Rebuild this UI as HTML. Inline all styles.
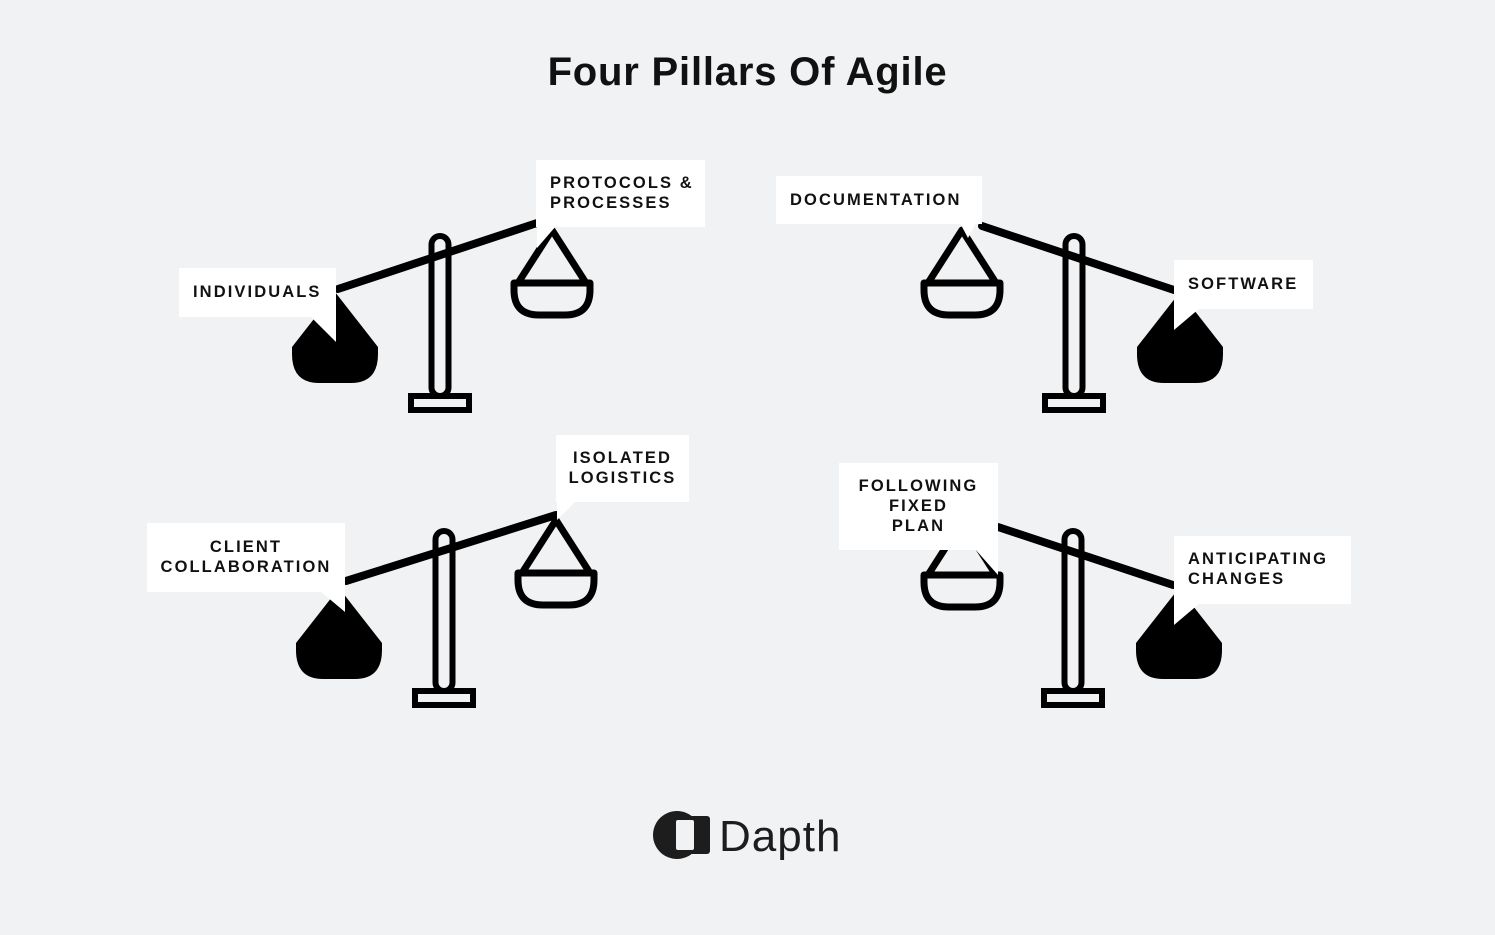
<!DOCTYPE html>
<html><head><meta charset="utf-8"><style>
html,body{margin:0;padding:0}
body{width:1495px;height:935px;background:#f0f2f4;position:relative;overflow:hidden;font-family:"Liberation Sans",sans-serif}
svg{position:absolute;left:0;top:0}
.l{position:absolute;background:#fff;font-weight:bold;font-size:16.5px;letter-spacing:2.1px;line-height:20px;color:#111;box-sizing:border-box;white-space:nowrap}
h1{position:absolute;left:0;width:1495px;top:50px;margin:0;text-align:center;font-size:40px;letter-spacing:0.8px;font-weight:bold;color:#111}
</style></head><body>
<svg width="1495" height="935" viewBox="0 0 1495 935">
<defs>
<g id="pole" fill="none" stroke="#000" stroke-width="6">
<rect x="-8.5" y="3" width="17" height="160" rx="8.5"/>
<rect x="-29" y="163" width="58" height="14"/>
</g>
<g id="pan" fill="none" stroke="#000" stroke-width="7" stroke-linejoin="round">
<path d="M-34,55 L0,2 L34,55"/>
<path d="M-38,55 H38 V62 Q38,87 13,87 H-13 Q-38,87 -38,62 Z"/>
</g>
<path id="wt" d="M0,0 L43,55 V62 Q43,91 16,91 H-16 Q-43,91 -43,62 V55 Z" fill="#000"/>
</defs>
<g stroke="#000" stroke-width="8" stroke-linecap="round">
<line x1="338" y1="289" x2="540" y2="222"/>
<line x1="982" y1="226" x2="1174" y2="290"/>
<line x1="346" y1="581" x2="556" y2="515"/>
<line x1="998" y1="527" x2="1173" y2="585"/>
</g>
<use href="#pole" x="440" y="233"/>
<use href="#pole" x="1074" y="233"/>
<use href="#pole" x="444" y="528"/>
<use href="#pole" x="1073" y="528"/>
<use href="#wt" x="335" y="292"/>
<use href="#wt" x="1180" y="292"/>
<use href="#wt" x="339" y="588"/>
<use href="#wt" x="1179" y="588"/>
<use href="#pan" x="552" y="228"/>
<use href="#pan" x="962" y="228"/>
<use href="#pan" x="556" y="518"/>
<use href="#pan" x="962" y="520"/>
<g fill="#fff">
<polygon points="310,316 336,316 336,342"/>
<polygon points="537,226 556,226 537,248"/>
<polygon points="960,223 976,223 968,238"/>
<polygon points="1174,308 1200,308 1174,330"/>
<polygon points="320,591 345,591 345,612"/>
<polygon points="557,501 576,501 557,520"/>
<polygon points="975,549 998,549 998,575"/>
<polygon points="1174,603 1200,603 1174,625"/>
</g>
<circle cx="677" cy="835" r="24" fill="#1d1d1d"/>
<rect x="676" y="816" width="34" height="38" rx="3" fill="#1d1d1d"/>
<rect x="676" y="820" width="18" height="30" rx="2" fill="#f0f2f4"/>
<text x="719" y="851" font-family="Liberation Sans, sans-serif" font-size="44" letter-spacing="1" fill="#1d1d1d">Dapth</text>
</svg>
<h1>Four Pillars Of Agile</h1>
<div class="l" style="left:179px;top:268px;width:157px;height:49px;padding:14px 0 0 14px">INDIVIDUALS</div>
<div class="l" style="left:536px;top:160px;width:169px;height:67px;padding:13px 0 0 14px">PROTOCOLS &amp;<br>PROCESSES</div>
<div class="l" style="left:776px;top:176px;width:206px;height:48px;padding:14px 0 0 14px">DOCUMENTATION</div>
<div class="l" style="left:1174px;top:260px;width:139px;height:49px;padding:14px 0 0 14px">SOFTWARE</div>
<div class="l" style="left:147px;top:523px;width:198px;height:69px;padding:14px 0 0 0;text-align:center">CLIENT<br>COLLABORATION</div>
<div class="l" style="left:556px;top:435px;width:133px;height:67px;padding:13px 0 0 0;text-align:center">ISOLATED<br>LOGISTICS</div>
<div class="l" style="left:839px;top:463px;width:159px;height:87px;padding:13px 0 0 0;text-align:center">FOLLOWING<br>FIXED<br>PLAN</div>
<div class="l" style="left:1174px;top:536px;width:177px;height:68px;padding:13px 0 0 14px">ANTICIPATING<br>CHANGES</div>
</body></html>
